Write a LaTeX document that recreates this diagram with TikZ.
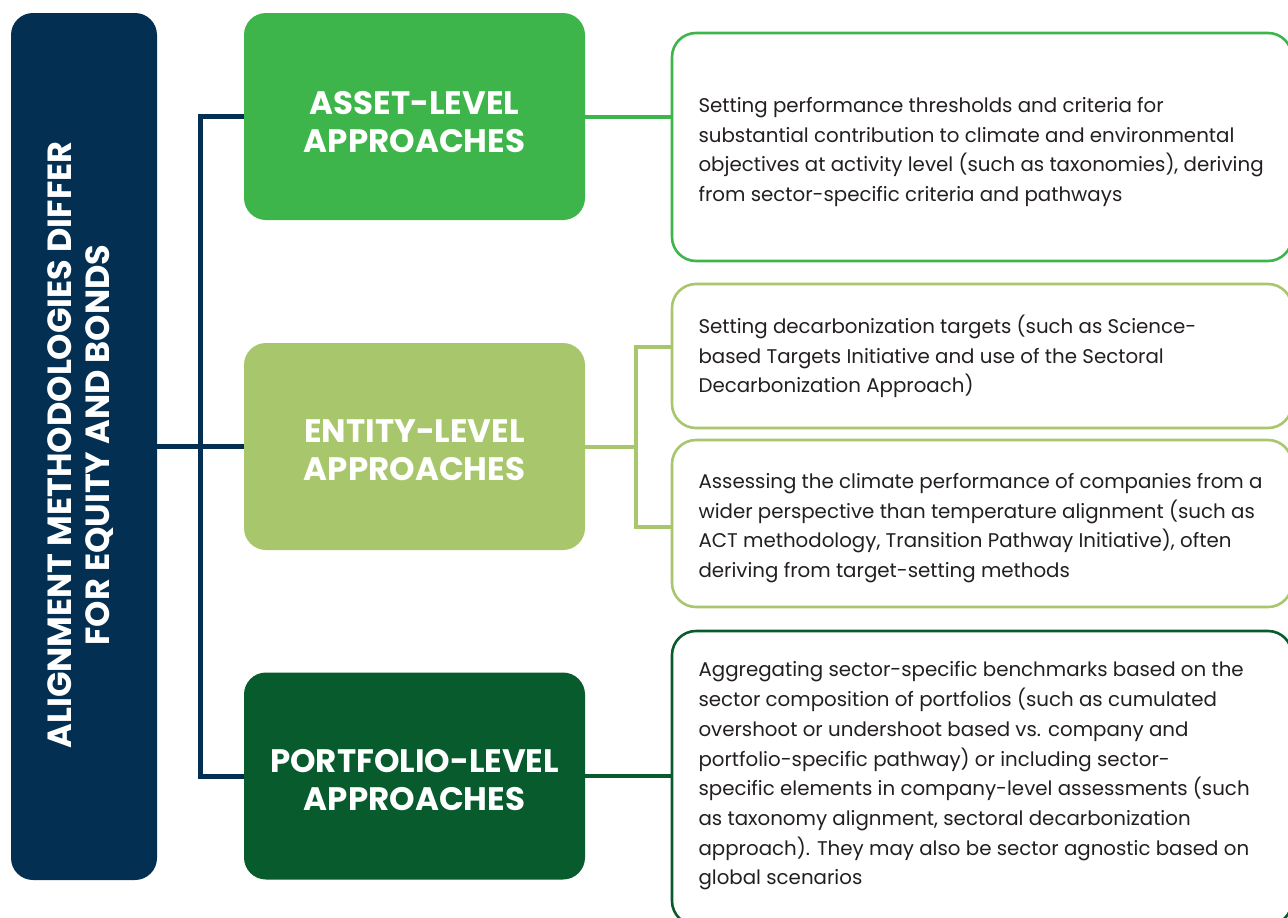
\documentclass[tikz,border=0pt]{standalone}
\usepackage{fontspec}
\setmainfont{Poppins}
\definecolor{navy}{HTML}{022F52}
\definecolor{gA}{HTML}{3DB54A}
\definecolor{gB}{HTML}{A8C66C}
\definecolor{gC}{HTML}{075B2C}
\definecolor{ink}{HTML}{231F20}
\tikzset{
  navybox/.style={fill=navy, rounded corners=22pt, draw=none},
  catbox/.style={rounded corners=22pt, draw=none, minimum width=341pt, minimum height=207pt},
  descbox/.style={rounded corners=24pt, line width=2.6pt, fill=white, minimum width=620pt},
  headtext/.style={text=white, font=\fontsize{32.5}{38}\selectfont\bfseries, align=center},
  desctext/.style={text=ink, font=\fontsize{19.8}{29.7}\selectfont, align=left, anchor=west},
  conn/.style={line width=5pt},
}
\begin{document}
\begin{tikzpicture}[x=1pt,y=-1pt]
\useasboundingbox (0,0) rectangle (1288,918);
% title
\node[navybox, minimum width=146pt, minimum height=867pt] (title) at (84,446.5) {};
\node[rotate=90, text=white, font=\fontsize{33.5}{38}\selectfont\bfseries, align=center] (titletext) at (81,445) {ALIGNMENT METHODOLOGIES DIFFER\\FOR EQUITY AND BONDS};
% categories
\node[catbox, fill=gA] (asset) at (414.5,116.5) {};
\node[catbox, fill=gB] (entity) at (414.5,446.5) {};
\node[catbox, fill=gC] (portfolio) at (414.5,776) {};
\node[headtext] (assettext) at (414.5,122) {ASSET-LEVEL\\APPROACHES};
\node[headtext] (entitytext) at (414.5,450) {ENTITY-LEVEL\\APPROACHES};
\node[headtext] (portfoliotext) at (414.5,780) {PORTFOLIO-LEVEL\\APPROACHES};
% description boxes
\node[descbox, draw=gA, minimum height=228pt] (d1) at (982,147) {};
\node[descbox, draw=gB, minimum height=144pt] (d2) at (982,356) {};
\node[descbox, draw=gB, minimum height=167pt] (d3) at (982,523.5) {};
\node[descbox, draw=gC, minimum height=294pt] (d4) at (982,778) {};
\node[desctext] (t1) at (695,152) {Setting performance thresholds and criteria for\\substantial contribution to climate and environmental\\objectives at activity level (such as taxonomies), deriving\\from sector-specific criteria and pathways};
\node[desctext] (t2) at (695,356.5) {Setting decarbonization targets (such as Science-\\based Targets Initiative and use of the Sectoral\\Decarbonization Approach)};
\node[desctext] (t3) at (695,528) {Assessing the climate performance of companies from a\\wider perspective than temperature alignment (such as\\ACT methodology, Transition Pathway Initiative), often\\deriving from target-setting methods};
\node[desctext] (t4) at (695,776) {Aggregating sector-specific benchmarks based on the\\sector composition of portfolios (such as cumulated\\overshoot or undershoot based vs. company and\\portfolio-specific pathway) or including sector-\\specific elements in company-level assessments (such\\as taxonomy alignment, sectoral decarbonization\\approach). They may also be sector agnostic based on\\global scenarios};
% navy connectors
\coordinate (bus) at (200,446.5);
\draw[conn, navy] (title.east) -- (entity.west);
\draw[conn, navy] (asset.west) -| (bus) |- (portfolio.west);
% green connectors
\draw[conn, gA, line width=4pt] (asset.east) -- (asset.east -| d1.west);
\coordinate (ebus) at (636,446.5);
\draw[conn, gB, line width=4pt] (entity.east) -- (ebus);
\draw[conn, gB, line width=4pt] (d2.west |- 0,347) -| (ebus |- 0,527) -- (d3.west |- 0,527);
\draw[conn, gC, line width=4pt] (portfolio.east) -- (portfolio.east -| d4.west);
\end{tikzpicture}
\end{document}
